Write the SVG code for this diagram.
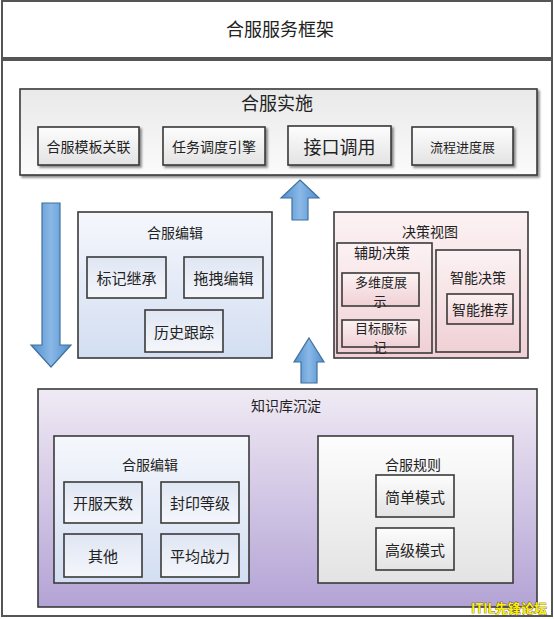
<svg xmlns="http://www.w3.org/2000/svg" width="554" height="619" viewBox="0 0 554 619">
<defs>
<linearGradient id="gGray" x1="0" y1="0" x2="0" y2="1"><stop offset="0" stop-color="#e9e9e9"/><stop offset="1" stop-color="#fbfbfb"/></linearGradient>
<linearGradient id="gBox" x1="0" y1="0" x2="0" y2="1"><stop offset="0" stop-color="#fdfdfd"/><stop offset="1" stop-color="#e3e3e3"/></linearGradient>
<linearGradient id="gBlue" x1="0" y1="0" x2="0" y2="1"><stop offset="0" stop-color="#f5f7fc"/><stop offset="1" stop-color="#d3def2"/></linearGradient>
<linearGradient id="gBlueBox" x1="0" y1="0" x2="0" y2="1"><stop offset="0" stop-color="#dfe6f3"/><stop offset="1" stop-color="#f4f6fb"/></linearGradient>
<linearGradient id="gPink" x1="0" y1="0" x2="0" y2="1"><stop offset="0" stop-color="#fcf2f3"/><stop offset="1" stop-color="#f0d0d5"/></linearGradient>
<linearGradient id="gPurple" x1="0" y1="0" x2="0" y2="1"><stop offset="0" stop-color="#f0eaf4"/><stop offset="1" stop-color="#b3a3d5"/></linearGradient>
<linearGradient id="gArrow" x1="0" y1="0" x2="1" y2="0"><stop offset="0" stop-color="#4f8fd0"/><stop offset="0.5" stop-color="#8ab8e6"/><stop offset="1" stop-color="#4f8fd0"/></linearGradient>
<filter id="sh" x="-10%" y="-10%" width="120%" height="130%"><feDropShadow dx="2" dy="2" stdDeviation="1.2" flood-color="#000" flood-opacity="0.45"/></filter>
</defs>
<style>
.frame{fill:#fff;stroke:#555;stroke-width:2}
.box{stroke:#3a3a3a;stroke-width:1.6}
.sh{filter:url(#sh)}
text{font-family:"Noto Sans CJK SC","Noto Sans",sans-serif;fill:#222;text-anchor:middle;dominant-baseline:central}
.t18{font-size:18px}
.t14{font-size:14px}
.t15{font-size:15px}
.t13{font-size:13px}
.arrow{fill:url(#gArrow);stroke:#41719c;stroke-width:1.2}
</style>
<rect class="frame" x="2" y="1" width="550" height="57"/>
<text class="t18" x="280" y="28">合服服务框架</text>
<rect class="frame" x="2" y="60" width="550" height="556"/>

<g id="impl">
<rect class="box sh" x="20" y="89" width="517" height="86" fill="url(#gGray)"/>
<text class="t18" x="277" y="102">合服实施</text>
</g>
<g id="n-template"><rect class="box sh" x="38" y="127" width="101" height="38" fill="url(#gBox)"/><text class="t14" x="88.5" y="146">合服模板关联</text></g>
<g id="n-task"><rect class="box sh" x="163" y="127" width="102" height="38" fill="url(#gBox)"/><text class="t14" x="214" y="146">任务调度引擎</text></g>
<g id="n-api"><rect class="box sh" x="288" y="126" width="103" height="39" fill="url(#gBox)"/><text class="t18" x="339.5" y="145.5">接口调用</text></g>
<g id="n-flow"><rect class="box sh" x="412" y="127" width="101" height="38" fill="url(#gBox)"/><text class="t13" x="462.5" y="146">流程进度展</text></g>

<g id="connectors">
<path class="arrow" d="M300,180 L319,198 L308,198 L308,220 L292,220 L292,198 L281,198 Z"/>
<path class="arrow" d="M42,203 L60,203 L60,345 L71,345 L51,367 L31,345 L42,345 Z"/>
<path class="arrow" d="M309,338 L324,362 L317,362 L317,383 L301,383 L301,362 L294,362 Z"/>
</g>

<g id="edit">
<rect class="box" x="78" y="212" width="194" height="146" fill="url(#gBlue)"/>
<text class="t14" x="175" y="232">合服编辑</text>
</g>
<g id="n-mark"><rect class="box" x="87" y="257" width="79" height="41" fill="url(#gBlueBox)"/><text class="t15" x="126.5" y="277.5">标记继承</text></g>
<g id="n-drag"><rect class="box" x="184" y="257" width="79" height="41" fill="url(#gBlueBox)"/><text class="t15" x="223.5" y="277.5">拖拽编辑</text></g>
<g id="n-history"><rect class="box" x="145" y="310" width="78" height="42" fill="url(#gBlueBox)"/><text class="t15" x="184" y="331">历史跟踪</text></g>

<g id="decision">
<rect class="box" x="334" y="212" width="194" height="146" fill="url(#gPink)"/>
<text class="t14" x="430" y="231">决策视图</text>
</g>
<g id="aux">
<rect class="box" x="337" y="243" width="95" height="110" fill="url(#gPink)"/>
<text class="t14" x="382" y="252">辅助决策</text>
</g>
<g id="n-multi"><rect class="box" x="342" y="273" width="77" height="33" fill="url(#gPink)"/><text class="t13" x="381" y="281">多维度展</text><text class="t13" x="380" y="300">示</text></g>
<g id="n-target"><rect class="box" x="342" y="320" width="77" height="27" fill="url(#gPink)"/><text class="t13" x="381" y="327">目标服标</text><text class="t13" x="380" y="346">记</text></g>
<g id="smart">
<rect class="box" x="436" y="250" width="84" height="102" fill="url(#gPink)"/>
<text class="t14" x="478" y="277">智能决策</text>
</g>
<g id="n-recommend"><rect class="box" x="447" y="294" width="66" height="30" fill="url(#gPink)"/><text class="t14" x="480" y="309">智能推荐</text></g>

<g id="kb">
<rect class="box" x="38" y="389" width="499" height="218" fill="url(#gPurple)"/>
<text class="t14" x="286" y="405">知识库沉淀</text>
</g>
<g id="kb-edit">
<rect class="box" x="54" y="436" width="195" height="147" fill="url(#gBlue)"/>
<text class="t14" x="150" y="464">合服编辑</text>
</g>
<g id="n-days"><rect class="box" x="64" y="482" width="78" height="41" fill="url(#gBlueBox)"/><text class="t15" x="103" y="502.5">开服天数</text></g>
<g id="n-seal"><rect class="box" x="161" y="482" width="78" height="41" fill="url(#gBlueBox)"/><text class="t15" x="200" y="502.5">封印等级</text></g>
<g id="n-other"><rect class="box" x="64" y="534" width="78" height="43" fill="url(#gBlueBox)"/><text class="t15" x="103" y="555.5">其他</text></g>
<g id="n-power"><rect class="box" x="161" y="534" width="78" height="43" fill="url(#gBlueBox)"/><text class="t15" x="200" y="555.5">平均战力</text></g>

<g id="rules">
<rect class="box" x="318" y="436" width="195" height="147" fill="url(#gBox)"/>
<text class="t14" x="413" y="464">合服规则</text>
</g>
<g id="n-simple"><rect class="box" x="376" y="475" width="78" height="42" fill="url(#gBox)"/><text class="t15" x="415" y="496">简单模式</text></g>
<g id="n-advanced"><rect class="box" x="376" y="528" width="78" height="42" fill="url(#gBox)"/><text class="t15" x="415" y="549">高级模式</text></g>

<text x="509" y="607" style="font-size:13px;font-weight:bold;fill:#ffee00;stroke:#333;stroke-width:0.6;paint-order:stroke">ITIL先锋论坛</text>
</svg>
